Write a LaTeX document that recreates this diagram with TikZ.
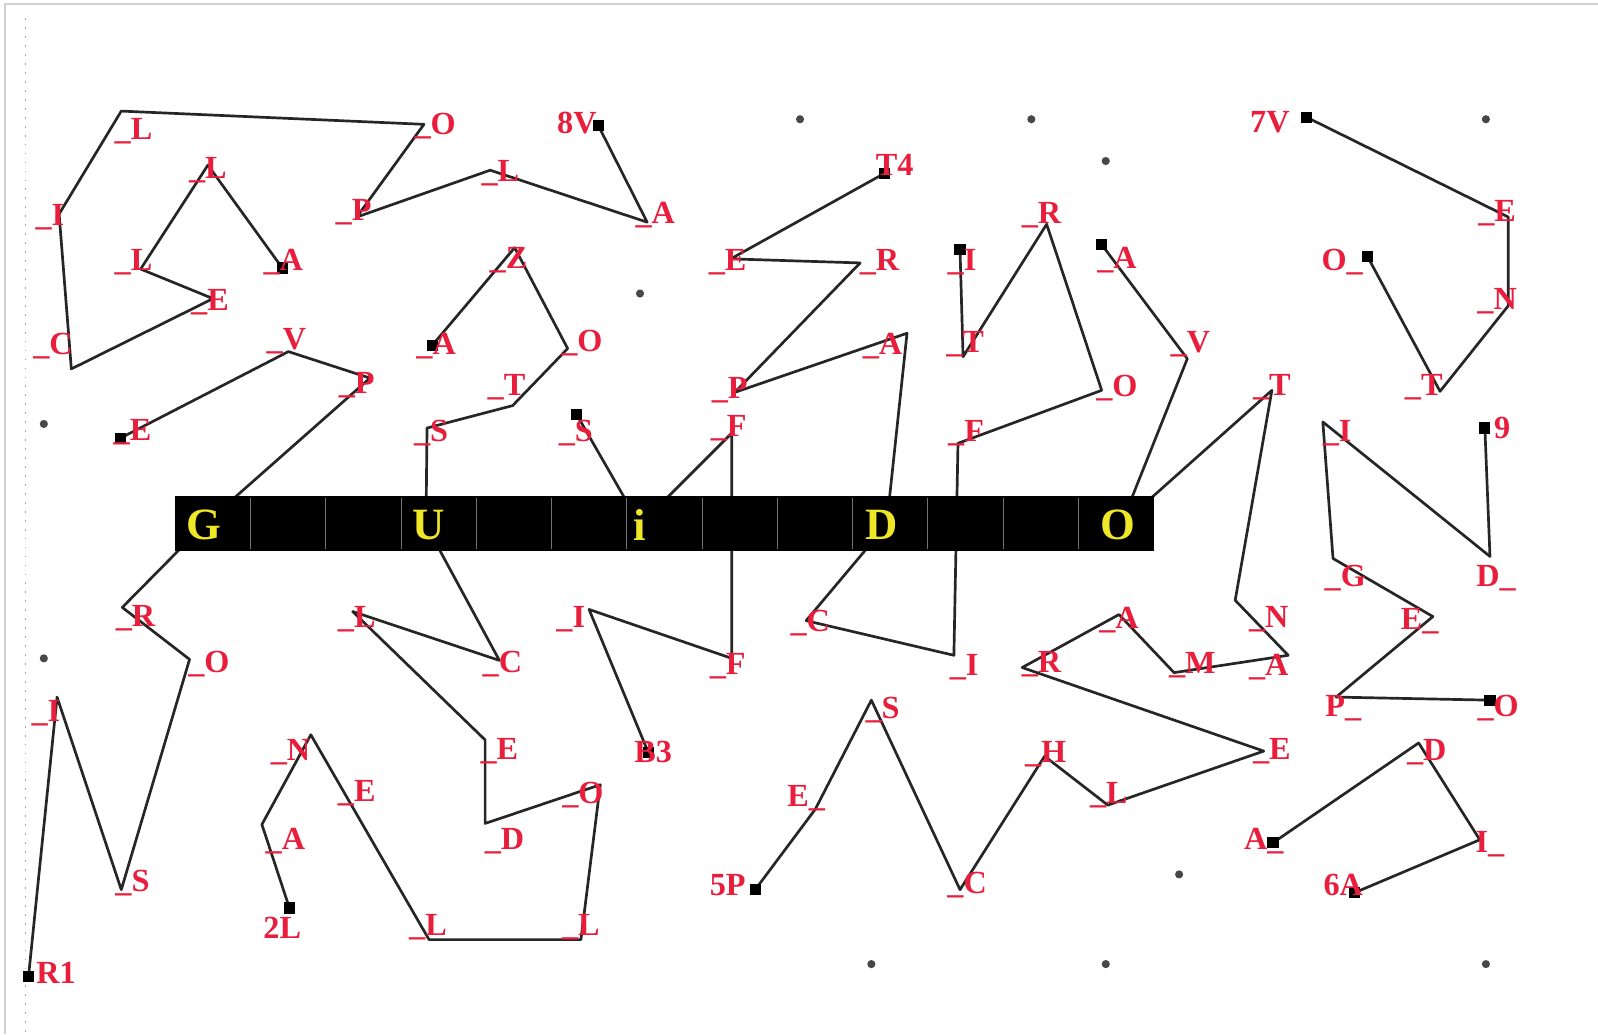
\documentclass[tikz,border=0pt]{standalone}
\usepackage{fontspec}
\setmainfont{Liberation Serif}
\usepackage{xcolor}
\definecolor{lblred}{RGB}{232,30,60}
\definecolor{baryel}{RGB}{238,230,40}
\tikzset{
  lbl/.style    ={text=lblred,font=\bfseries\fontsize{9}{9}\selectfont,inner sep=0pt},
  bartxt/.style ={text=baryel,font=\bfseries\fontsize{12.5}{12.5}\selectfont,inner sep=0pt},
  endsq/.style  ={rectangle,fill=black,minimum size=1.1mm,inner sep=0pt},
  stray/.style  ={circle,fill=black!72,minimum size=0.8mm,inner sep=0pt},
  trail/.style  ={black!85,line width=0.75pt,line join=round},
  cell/.style   ={black!55,line width=0.3pt},
  frame/.style  ={black!18,line width=0.5pt},
}

\begin{document}
\begin{tikzpicture}[x=0.1mm,y=-0.1mm]
  \useasboundingbox (0,0) rectangle (1568,1015);
  \draw[frame] (5,1015) -- (5,4) -- (1568,4);
  \draw[frame,dotted,black!35] (25,18) -- (25,1015);
  % polyline corners
  \foreach \n/\x/\y in {v8/587/123,a1/635/218,l2/481/167,p1/350/213,o1/416/122,l1/119/109,
      i1/58/210,c1/70/362,e1/209/293,l4/138/264,l3/204/162,a2/277/263,
      e2/118/430,v1/283/345,p2/363/371,r1/120/596,o2/186/647,s1/119/873,i2/56/684,R1/28/958,
      a3/424/339,z1/505/243,o3/557/342,t1/503/398,s2/419/420,c2/490/648,l5/346/600,
      e3/476/726,d1/476/808,o4/589/770,l6/570/922,l7/421/922,n1/305/721,a4/257/809,L2/284/891,
      s3/566/407,f1/718/425,f2/718/646,i3/578/598,B3/636/738,
      T4/868/170,e5/717/254,r2/844/258,p3/721/385,a5/890/327,c3/791/609,i4/936/643,
      f3/940/435,o5/1081/383,r3/1027/220,t2/945/350,i5/942/245,
      a6/1081/240,v2/1165/352,t3/1248/383,k1/1212/589,a7/1264/643,m1/1152/660,a8/1098/603,
      r4/1003/655,e6/1240/737,l8/1087/790,h1/1025/742,c4/942/873,s4/855/687,e7/800/794,P5/741/873,
      V7/1282/115,e8/1480/213,n2/1480/300,t4/1413/384,o6/1342/252,
      N9/1457/420,d2/1462/546,i6/1298/414,g1/1308/548,e9/1406/605,p4/1311/684,o7/1462/687,
      a9/1249/827,d3/1392/729,i7/1452/824,A6/1329/876,
      gv/200/515,uv/418/515,iv/628/515,dv/870/515,ov/1100/515}
     \coordinate (\n) at (\x,\y);
  \draw[trail] (v8)--(a1)--(l2)--(p1)--(o1)--(l1)--(i1)--(c1)--(e1)--(l4)--(l3)--(a2);
  \draw[trail] (e2)--(v1)--(p2)--(gv)--(r1)--(o2)--(s1)--(i2)--(R1);
  \draw[trail] (a3)--(z1)--(o3)--(t1)--(s2)--(uv)--(c2)--(l5)--(e3)--(d1)--(o4)--(l6)--(l7)
     --(n1)--(a4)--(L2);
  \draw[trail] (s3)--(iv)--(f1)--(f2)--(i3)--(B3);
  \draw[trail] (T4)--(e5)--(r2)--(p3)--(a5)--(dv)--(c3)--(i4)--(f3)--(o5)--(r3)--(t2)--(i5);
  \draw[trail] (a6)--(v2)--(ov)--(t3)--(k1)--(a7)--(m1)--(a8)--(r4)--(e6)--(l8)--(h1)--(c4)
     --(s4)--(e7)--(P5);
  \draw[trail] (V7)--(e8)--(n2)--(t4)--(o6);
  \draw[trail] (N9)--(d2)--(i6)--(g1)--(e9)--(p4)--(o7);
  \draw[trail] (a9)--(d3)--(i7)--(A6);
  \foreach \n in {v8,a2,e2,R1,a3,L2,s3,B3,T4,i5,a6,P5,V7,o6,N9,o7,a9,A6}
     \node[endsq] (sq\n) at (\n) {};
  % stray points
  \foreach \x/\y [count=\i] in {785/117,1012/117,1458/117,1085/158,628/288,43/416,43/646,
      1157/858,855/946,1085/946,1458/946}
     \node[stray] (dot\i) at (\x,\y) {};
  % the bar
  \fill[black] (172,487) rectangle (1132,541);
  \foreach \k in {1,...,12}
     \draw[cell] ({172+\k*73.85},489) -- ({172+\k*73.85},539);
  \foreach \x/\l [count=\i] in {200/G,421/U,628/i,865/D,1097/O}
     \node[bartxt] (b\i) at (\x,515) {\l};
  % letters
  \foreach \x/\y/\t [count=\i] in {131/129/\_L,427/124/\_O,566/121/8V,491/170/\_L,643/211/\_A,
      347/208/\_P,49/213/\_I,204/167/\_L,131/257/\_L,278/257/\_A,206/297/\_E,52/340/\_C,
      281/335/\_V,350/378/\_P,130/424/\_E,428/340/\_A,499/255/\_Z,571/337/\_O,497/380/\_T,
      423/425/\_S,565/425/\_S,878/162/T4,714/257/\_E,863/257/\_R,716/383/\_P,866/340/\_A,
      715/420/\_F,944/257/\_I,1022/211/\_R,947/338/\_T,1096/255/\_A,1096/381/\_O,948/425/\_F,
      1168/338/\_V,1248/380/\_T,1246/120/7V,1469/209/\_E,1469/296/\_N,1317/257/O\_,
      1397/380/\_T,1312/425/\_I,1474/420/9,1468/567/D\_,1320/567/\_G,1393/610/E\_,
      1318/695/P\_,1470/695/\_O,1245/608/\_N,1245/655/\_A,1170/653/\_M,1098/608/\_A,
      1022/652/\_R,1248/737/\_E,1088/780/\_L,1026/740/\_H,949/868/\_C,866/697/\_S,
      791/783/E\_,714/868/5P,795/611/\_C,946/655/\_I,714/654/\_F,560/608/\_I,641/738/B3,
      133/607/\_R,205/652/\_O,45/700/\_I,130/866/\_S,55/955/R1,350/608/\_L,493/652/\_C,
      490/737/\_E,495/825/\_D,572/780/\_O,570/910/\_L,420/910/\_L,350/778/\_E,285/738/\_N,
      280/825/\_A,277/910/2L,1240/825/A\_,1400/738/\_D,1462/828/I\_,1318/868/6A}
     \node[lbl] (t\i) at (\x,\y) {\t};
\end{tikzpicture}
\end{document}
